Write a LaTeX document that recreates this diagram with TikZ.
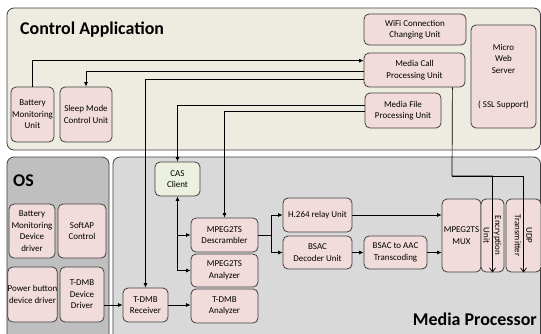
\documentclass[tikz,border=0pt]{standalone}
\usepackage{fontspec}
\setmainfont{Carlito}
\usetikzlibrary{arrows.meta}
\definecolor{pinkf}{HTML}{F2DCDB}
\definecolor{greenf}{HTML}{EBF1DE}
\definecolor{ctrlf}{HTML}{EEEBE1}
\definecolor{osf}{HTML}{BFBFBF}
\definecolor{mpf}{HTML}{D9D9D9}
\definecolor{edge}{HTML}{404040}
\begin{document}
\begin{tikzpicture}[x=1bp,y=-1bp,
  sz/.style 2 args={minimum width=#1bp, minimum height=#2bp},
  panel/.style={draw=edge, rounded corners=7bp, line width=0.8bp, inner sep=0pt},
  box/.style={draw=edge, fill=pinkf, rounded corners=5bp, line width=0.8bp, align=center,
    font=\fontsize{9}{11.5}\selectfont, inner sep=0pt},
  title/.style={font=\fontsize{18}{21}\selectfont\bfseries, anchor=base west, inner sep=0pt},
  conn/.style={line width=0.7bp, draw=black},
  arr/.style={conn, -{Latex[length=4.5bp,width=4bp]}},
  darr/.style={conn, {Latex[length=4.5bp,width=4bp]}-},
  oarr/.style={conn, -{Straight Barb[length=4bp,width=6bp]}}]
\useasboundingbox (0,0) rectangle (541,333);
\clip (0,0) rectangle (541,333);
\fill[white] (0,0) rectangle (541,333);
% panels
\node[panel, fill=ctrlf, sz={533.5}{142}] (ctrl) at (273.75,79) {};
\node[panel, fill=osf, sz={102}{188}] (os) at (58,251) {};
\node[panel, fill=mpf, sz={427.5}{188}] (mp) at (326.75,251) {};
\node[title] (tctrl) at (20,34) {Control Application};
\node[title] (tos) at (13,186) {OS};
\node[title, anchor=base east] (tmp) at (537,325) {Media Processor};
% control application boxes
\node[box, sz={43}{55}] (bmu) at (32.5,114.5) {Battery\\Monitoring\\Unit};
\node[box, sz={52}{55}] (smc) at (86,114.5) {Sleep Mode\\Control Unit};
\node[box, sz={102}{31}] (wifi) at (415,29.5) {WiFi Connection\\Changing Unit};
\node[box, sz={101}{34}] (mcp) at (414.5,70) {Media Call\\Processing Unit};
\node[box, sz={76}{35}] (mfp) at (403,110.5) {Media File\\Processing Unit};
\node[box, sz={65}{103}] (mws) at (503.5,76.5) {Micro\\Web\\Server\\[23bp]( SSL Support)};
% OS boxes
\node[box, sz={46}{54}] (bmdd) at (32,231) {Battery\\Monitoring\\Device\\driver};
\node[box, sz={48}{54}] (soft) at (82,231) {SoftAP\\Control};
\node[box, sz={49}{55}] (pbdd) at (32.5,294.5) {Power button\\device driver};
\node[box, sz={44}{55}] (tdd) at (82,294.5) {T-DMB\\Device\\Driver};
% media processor boxes
\node[box, fill=greenf, sz={45}{34}] (cas) at (177.5,179) {CAS\\Client};
\node[box, sz={67}{34}] (desc) at (224.5,235) {MPEG2TS\\Descrambler};
\node[box, sz={67}{33}] (ana) at (224.5,270.5) {MPEG2TS\\Analyzer};
\node[box, sz={45}{34}] (tdr) at (145.5,305) {T-DMB\\Receiver};
\node[box, sz={67}{34}] (tda) at (224.5,306) {T-DMB\\Analyzer};
\node[box, sz={69}{34}] (h264) at (317.5,215) {H.264 relay Unit};
\node[box, sz={69}{33}] (bsacd) at (317.5,252.5) {BSAC\\Decoder Unit};
\node[box, sz={63}{33}] (b2a) at (395.5,252.5) {BSAC to AAC\\Transcoding};
\node[box, sz={39}{73}] (mux) at (461.5,235.5) {MPEG2TS\\MUX};
\node[box, sz={73}{23}, rotate=-90] (enc) at (492.5,235.5) {Encryption\\Unit};
\node[box, sz={73}{35}, rotate=-90] (udp) at (523.5,235.5) {UDP\\Transmitter};
% connectors: control application
\draw[arr] (bmu.north) |- ([yshift=-8bp]mcp.north west);
\draw[arr] ([yshift=-1bp]mcp.west) -| (smc.north);
\draw[arr] ([yshift=-9bp]mcp.west) -| (tdr.north);
\draw[arr] ([yshift=5.5bp]mfp.west) -| (cas.north);
\draw[arr] ([yshift=-0.5bp]mfp.west) -| (desc.north);
\coordinate (j6) at (452,176);
\draw[oarr] ([xshift=-13bp]mcp.south east) -- (j6) -| (enc.east);
\draw[oarr] (j6) -| (udp.east);
% connectors: media processor
\draw[arr] (tdd.east |- tdr.west) -- (tdr.west);
\draw[arr] (tdr.east) -- (tdr.east -| tda.west);
\draw[darr] (cas.south) -- (cas.south |- ana.west);
\draw[arr] (cas.south |- desc.west) -- (desc.west);
\draw[arr] (cas.south |- ana.west) -- (ana.west);
\coordinate (j10) at (271,235);
\draw[conn] (desc.east) -- (j10);
\draw[arr] (j10) |- (h264.west);
\draw[arr] (j10) |- (bsacd.west);
\draw[arr] (h264.east) -- (h264.east -| mux.west);
\draw[arr] (bsacd.east) -- (b2a.west);
\draw[arr] (b2a.east) -- (b2a.east -| mux.west);
\end{tikzpicture}
\end{document}
